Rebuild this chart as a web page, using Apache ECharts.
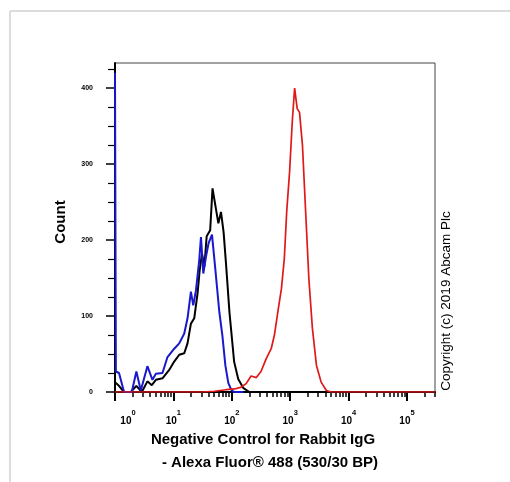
<!DOCTYPE html>
<html><head><meta charset="utf-8">
<script src="https://cdn.jsdelivr.net/npm/echarts@6/dist/echarts.min.js"></script>
<style>html,body{margin:0;padding:0;background:#fff}#c{width:510px;height:482px}</style>
</head><body><div id="c"></div>
<script>
// x values are log10 of fluorescence intensity (decades), y values are counts
const blackX = [0.00,0.057,0.155,0.27,0.366,0.459,0.555,0.63,0.70,0.813,0.928,1.014,1.10,1.186,1.242,1.30,1.357,1.414,1.45,1.49,1.53,1.57,1.63,1.67,1.77,1.815,1.86,1.90,1.96,2.04,2.11,2.2,2.3,5.48];
const blackY = [13,9,0,0,8,0,14,9,16,18,29,40,49,51,64,90,97,130,160,182,165,205,213,268,222,237,210,170,105,40,17,5,0,0];
const blueX = [0,0.015,0.069,0.155,0.287,0.366,0.442,0.555,0.641,0.70,0.813,0.899,1.014,1.10,1.186,1.242,1.30,1.34,1.387,1.443,1.472,1.512,1.558,1.603,1.661,1.725,1.787,1.838,1.89,1.94,1.99,2.04,2.2];
const blueY = [420,27,25,0,0,27,2,34,16,24,25,46,57,64,77,97,132,114,134,174,204,156,178,196,207,156,105,75,35,12,3,0,0];
const redX = [0,1.5,1.7,1.9,2.05,2.15,2.246,2.33,2.42,2.5,2.59,2.675,2.73,2.79,2.85,2.9,2.94,2.99,3.036,3.076,3.12,3.16,3.21,3.265,3.32,3.38,3.45,3.53,3.62,3.7,5.48];
const redY = [0,0,1,3,4,6,11,21,19,27,44,57,75,106,136,176,237,290,356,400,373,368,325,237,149,84,35,13,2,0,0];

const xMajorTicks = [0,1,2,3,4,5];
const xTickExponents = ['0','1','2','3','4','5'];
const yMajorTicks = [0,100,200,300,400];
const yMinorTicks = [25,50,75,125,150,175,225,250,275,325,350,375,425];
const xMinorTicks = [];
for (const d of [0,1,2,3,4,5]) for (let k=2;k<=9;k++){ const v=d+Math.log10(k); if (v<=5.48) xMinorTicks.push(v); }

const zip = (a,b)=>a.map((v,i)=>[v,b[i]]);
const FF = '"Liberation Sans", Arial, sans-serif';

const chart = echarts.init(document.getElementById('c'));
chart.setOption({
  animation:false,
  backgroundColor:'#fff',
  grid:{left:115,right:75,top:63,bottom:90,show:true,borderColor:'#444',borderWidth:1,backgroundColor:'transparent'},
  xAxis:[
    {type:'value',min:0,max:5.48,position:'bottom',
     axisLine:{show:true,onZero:false,lineStyle:{color:'#000',width:2}},
     axisTick:{show:true,customValues:xMajorTicks,length:9,lineStyle:{color:'#000',width:2}},
     axisLabel:{customValues:xMajorTicks,margin:17,color:'#000',
       formatter:function(v){const i=xMajorTicks.indexOf(v);const e=xTickExponents[i];return (i===0?'{p|}':'')+'{b|10}{s|'+e+'}';},
       rich:{p:{width:26},b:{fontSize:10,fontWeight:'bold',fontFamily:FF,color:'#000',verticalAlign:'bottom',lineHeight:17},
             s:{fontSize:7.5,fontWeight:'bold',fontFamily:FF,color:'#000',verticalAlign:'top',lineHeight:17}}},
     splitLine:{show:false}},
    {type:'value',min:0,max:5.48,position:'bottom',
     axisLine:{show:false,onZero:false},
     axisTick:{show:true,customValues:xMinorTicks,length:5,lineStyle:{color:'#000',width:1.5}},
     axisLabel:{show:false},splitLine:{show:false}}
  ],
  yAxis:[
    {type:'value',min:0,max:433,position:'left',
     axisLine:{show:true,onZero:false,lineStyle:{color:'#000',width:2}},
     axisTick:{show:true,customValues:yMajorTicks,length:9,lineStyle:{color:'#000',width:1.5}},
     axisLabel:{customValues:yMajorTicks,margin:22,color:'#000',fontSize:7,fontWeight:'bold',fontFamily:FF},
     splitLine:{show:false}},
    {type:'value',min:0,max:433,position:'left',
     axisLine:{show:false,onZero:false},
     axisTick:{show:true,customValues:yMinorTicks,length:7,lineStyle:{color:'#000',width:1.2}},
     axisLabel:{show:false},splitLine:{show:false}}
  ],
  series:[
    {type:'line',xAxisIndex:0,yAxisIndex:0,data:zip(blackX,blackY),symbol:'none',lineStyle:{color:'#000',width:2},z:3},
    {type:'line',xAxisIndex:0,yAxisIndex:0,data:zip(blueX,blueY),symbol:'none',lineStyle:{color:'#1818cc',width:2},z:4},
    {type:'line',xAxisIndex:0,yAxisIndex:0,data:zip(redX,redY),symbol:'none',lineStyle:{color:'#e01818',width:1.7},z:5}
  ],
  graphic:[
    {type:'line',shape:{x1:10,y1:11,x2:510,y2:11},style:{stroke:'#dcdcdc',lineWidth:2}},
    {type:'line',shape:{x1:10,y1:11,x2:10,y2:482},style:{stroke:'#dcdcdc',lineWidth:2}},
    {type:'text',x:61,y:222,rotation:Math.PI/2,style:{text:'Count',fontSize:15,fontWeight:'bold',fontFamily:FF,fill:'#000',align:'center',verticalAlign:'middle'}},
    {type:'text',x:446,y:301,rotation:Math.PI/2,style:{text:'Copyright (c) 2019 Abcam Plc',fontSize:13.5,fontFamily:FF,fill:'#000',align:'center',verticalAlign:'middle'}},
    {type:'text',x:263,y:440,style:{text:'Negative Control for Rabbit IgG',fontSize:15,fontWeight:'bold',fontFamily:FF,fill:'#000',align:'center',verticalAlign:'middle'}},
    {type:'text',x:270,y:463,style:{text:'- Alexa Fluor® 488 (530/30 BP)',fontSize:15,fontWeight:'bold',fontFamily:FF,fill:'#000',align:'center',verticalAlign:'middle'}}
  ]
});
</script></body></html>
